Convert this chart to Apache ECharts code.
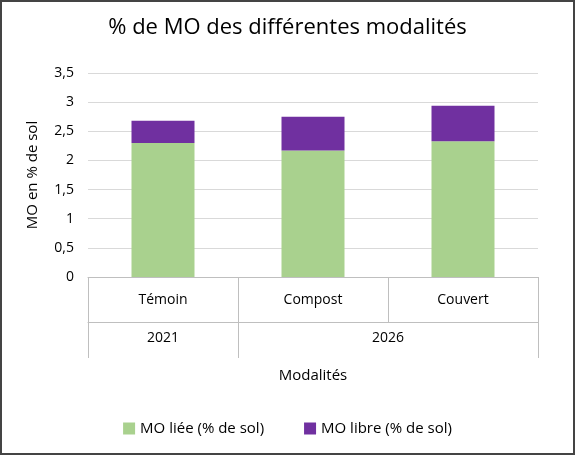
<!DOCTYPE html>
<html><head><meta charset="utf-8">
<script src="https://cdn.jsdelivr.net/npm/echarts@6/dist/echarts.min.js"></script>
<style>html,body{margin:0;padding:0;background:#fff}#c{width:571px;height:451px;border:2px solid #444}</style>
</head><body><div id="c"></div>
<script>
const categories = ['Témoin', 'Compost', 'Couvert'];
const years = ['2021', '2026'];
const moLiee = [2.30, 2.17, 2.33];
const moLibre = [0.38, 0.58, 0.61];
const yTicks = [0, 0.5, 1, 1.5, 2, 2.5, 3, 3.5];

const font = 'Open Sans';
const chart = echarts.init(document.getElementById('c'));
chart.setOption({
  animation: false,
  textStyle: {fontFamily: font},
  title: {text: '% de MO des différentes modalités', left: 'center', top: 10,
    textStyle: {fontFamily: font, fontSize: 22, fontWeight: 'normal', color: '#000'}},
  grid: {left: 86, right: 35, top: 71, bottom: 176},
  legend: {bottom: 12, itemGap: 40, icon: 'rect', itemWidth: 12, itemHeight: 12,
    textStyle: {fontFamily: font, fontSize: 15, color: '#000'}},
  xAxis: [{
    type: 'category', data: categories, position: 'bottom',
    axisLine: {lineStyle: {color: '#bfbfbf'}},
    axisTick: {show: true, length: 45, lineStyle: {color: '#bfbfbf'}},
    axisLabel: {margin: 16, fontSize: 14, color: '#000', fontFamily: font}
  }, {
    type: 'value', min: 0, max: 3, position: 'bottom', offset: 45,
    axisLine: {show: true, lineStyle: {color: '#bfbfbf'}},
    axisTick: {show: true, length: 36, customValues: [0, 1, 3], lineStyle: {color: '#bfbfbf'}},
    axisLabel: {customValues: [0.5, 2], margin: 9, fontSize: 14, color: '#000', fontFamily: font,
      formatter: v => v < 1 ? years[0] : years[1]},
    splitLine: {show: false},
    name: 'Modalités', nameLocation: 'middle', nameGap: 46,
    nameTextStyle: {fontSize: 15, color: '#000', fontFamily: font}
  }],
  yAxis: {
    type: 'value', min: 0, max: 3.5, interval: 0.5,
    axisLine: {show: false}, axisTick: {show: false},
    splitLine: {lineStyle: {color: '#d9d9d9'}},
    axisLabel: {fontSize: 14, color: '#000', fontFamily: font, margin: 14,
      formatter: v => String(v).replace('.', ',')},
    name: 'MO en % de sol', nameLocation: 'middle', nameGap: 48,
    nameTextStyle: {fontSize: 15, color: '#000', fontFamily: font}
  },
  series: [
    {name: 'MO liée (% de sol)', type: 'bar', stack: 's', data: moLiee, barWidth: '42%', itemStyle: {color: '#a9d18e'}},
    {name: 'MO libre (% de sol)', type: 'bar', stack: 's', data: moLibre, itemStyle: {color: '#7030a0'}}
  ]
});
</script></body></html>
